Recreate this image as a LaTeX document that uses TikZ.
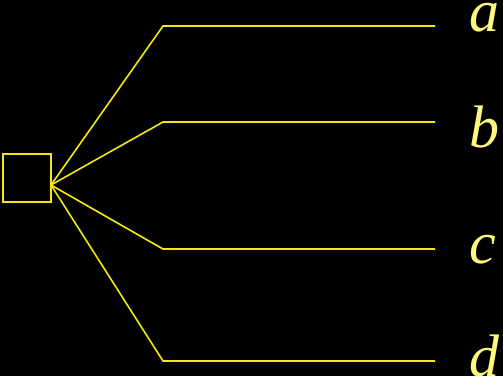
\documentclass[tikz,border=0pt]{standalone}
\usepackage{fontspec}
\setmainfont{Liberation Serif}
\begin{document}
\begin{tikzpicture}[x=1pt,y=-1pt,
  branch/.style={draw=yellow!95!black, line width=1.6pt},
  lab/.style={text=yellow!52!white, font=\fontsize{60}{60}\selectfont\itshape, anchor=base west, inner sep=0pt}]
\fill[black] (0,0) rectangle (503,376);
\useasboundingbox (0,0) rectangle (503,376);
\node[draw=yellow!95!black, line width=1.6pt, minimum size=48pt, inner sep=0pt] (sq) at (27,178) {};
\coordinate (o) at (51,185);
\coordinate (ka) at (163,26);
\coordinate (kb) at (163,122);
\coordinate (kc) at (163,249);
\coordinate (kd) at (163,361);
\coordinate (ea) at (435,26);
\coordinate (eb) at (435,122);
\coordinate (ec) at (435,249);
\coordinate (ed) at (435,361);
\draw[branch] (o) -- (ka) -- (ea);
\draw[branch] (o) -- (kb) -- (eb);
\draw[branch] (o) -- (kc) -- (ec);
\draw[branch] (o) -- (kd) -- (ed);
\node[lab] (la) at (469,31) {a};
\node[lab] (lb) at (469,147) {b};
\node[lab] (lc) at (469,263) {c};
\node[lab] (ld) at (469,376) {d};
\end{tikzpicture}
\end{document}
